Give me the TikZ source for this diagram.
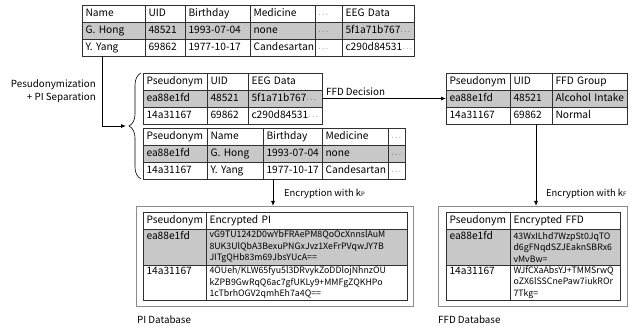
\documentclass[tikz,border=0pt]{standalone}
\usepackage{fontspec}
\setmainfont{Noto Sans CJK SC}
\usetikzlibrary{arrows.meta,decorations.pathreplacing}
\definecolor{rowgrey}{HTML}{C8C8C8}
\definecolor{tabline}{HTML}{303030}
\definecolor{boxline}{HTML}{8C8C8C}
\newcommand{\mdots}{{\fontsize{7}{7}\selectfont\ensuremath{\cdots}}}
\newcommand{\basefontsel}{\fontsize{10.2}{11.5}\selectfont}
\tikzset{
  basefont/.style={font=\fontsize{10.2}{12}\selectfont},
  labfont/.style={font=\fontsize{9.8}{12.5}\selectfont},
  encfont/.style={font=\fontsize{8.8}{11.5}\selectfont},
  cellbox/.style={basefont,draw=tabline,line width=0.6pt,inner xsep=3.5pt,inner ysep=0pt,outer sep=0pt,align=left,text height=7.5pt,text depth=2pt,anchor=north west},
  mcellbox/.style={encfont,draw=tabline,line width=0.6pt,inner xsep=3.5pt,inner ysep=0.5pt,outer sep=0pt,align=left,anchor=north west},
  dbbox/.style={draw=boxline,line width=0.6pt,outer sep=0pt,anchor=north west,inner sep=0pt},
  conn/.style={line width=0.8pt,black},
  arr/.style={conn,-{Latex[length=5pt,width=4pt]}},
  lab/.style={labfont,inner sep=1pt},
  enclab/.style={font=\fontsize{9.4}{12}\selectfont,inner sep=1pt},
}
% name, x1, y1, x2, y2, text, fill
\newcommand{\tcell}[7]{%
  \node[cellbox,fill=#7,minimum width={(#4-#2)*1pt},minimum height={(#5-#3)*1pt},text width={(#4-#2)*1pt-7pt}] (#1) at (#2,#3) {\mbox{#6}};}
\newcommand{\mcell}[7]{%
  \node[mcellbox,fill=#7,minimum width={(#4-#2)*1pt},minimum height={(#5-#3)*1pt},text width={(#4-#2)*1pt-7pt}] (#1) at (#2,#3) {#6};}
\newcommand{\ksub}[1]{k{\fontsize{6}{6}\selectfont #1}}
\begin{document}
\begin{tikzpicture}[x=1pt,y=-1pt]
\useasboundingbox (0,0) rectangle (639,328);

% ---------- Table 1 ----------
\tcell{t1a1}{82}{5}{145}{22}{Name}{white}
\tcell{t1a2}{145}{5}{185}{22}{UID}{white}
\tcell{t1a3}{185}{5}{250}{22}{Birthday}{white}
\tcell{t1a4}{250}{5}{315}{22}{Medicine}{white}
\tcell{t1a5}{315}{5}{342}{22}{\mdots}{white}
\tcell{t1a6}{342}{5}{414}{22}{EEG Data}{white}
\tcell{t1b1}{82}{22}{145}{39}{G. Hong}{rowgrey}
\tcell{t1b2}{145}{22}{185}{39}{48521}{rowgrey}
\tcell{t1b3}{185}{22}{250}{39}{1993-07-04}{rowgrey}
\tcell{t1b4}{250}{22}{315}{39}{none}{rowgrey}
\tcell{t1b5}{315}{22}{342}{39}{\mdots}{rowgrey}
\tcell{t1b6}{342}{22}{414}{39}{5f1a71b767\mdots}{rowgrey}
\tcell{t1c1}{82}{39}{145}{56}{Y. Yang}{white}
\tcell{t1c2}{145}{39}{185}{56}{69862}{white}
\tcell{t1c3}{185}{39}{250}{56}{1977-10-17}{white}
\tcell{t1c4}{250}{39}{315}{56}{Candesartan}{white}
\tcell{t1c5}{315}{39}{342}{56}{\mdots}{white}
\tcell{t1c6}{342}{39}{414}{56}{c290d84531\mdots}{white}

% ---------- Table 2 ----------
\tcell{t2a1}{143}{73}{207}{90}{Pseudonym}{white}
\tcell{t2a2}{207}{73}{248}{90}{UID}{white}
\tcell{t2a3}{248}{73}{322}{90}{EEG Data}{white}
\tcell{t2b1}{143}{90}{207}{107}{ea88e1fd}{rowgrey}
\tcell{t2b2}{207}{90}{248}{107}{48521}{rowgrey}
\tcell{t2b3}{248}{90}{322}{107}{5f1a71b767\mdots}{rowgrey}
\tcell{t2c1}{143}{107}{207}{124}{14a31167}{white}
\tcell{t2c2}{207}{107}{248}{124}{69862}{white}
\tcell{t2c3}{248}{107}{322}{124}{c290d84531\mdots}{white}

% ---------- Table 3 ----------
\tcell{t3a1}{143}{128}{207}{145}{Pseudonym}{white}
\tcell{t3a2}{207}{128}{263}{145}{Name}{white}
\tcell{t3a3}{263}{128}{322}{145}{Birthday}{white}
\tcell{t3a4}{322}{128}{388}{145}{Medicine}{white}
\tcell{t3a5}{388}{128}{405}{145}{\mdots}{white}
\tcell{t3b1}{143}{145}{207}{162}{ea88e1fd}{rowgrey}
\tcell{t3b2}{207}{145}{263}{162}{G. Hong}{rowgrey}
\tcell{t3b3}{263}{145}{322}{162}{1993-07-04}{rowgrey}
\tcell{t3b4}{322}{145}{388}{162}{none}{rowgrey}
\tcell{t3b5}{388}{145}{405}{162}{\mdots}{rowgrey}
\tcell{t3c1}{143}{162}{207}{179}{14a31167}{white}
\tcell{t3c2}{207}{162}{263}{179}{Y. Yang}{white}
\tcell{t3c3}{263}{162}{322}{179}{1977-10-17}{white}
\tcell{t3c4}{322}{162}{388}{179}{Candesartan}{white}
\tcell{t3c5}{388}{162}{405}{179}{\mdots}{white}

% ---------- Table 4 ----------
\tcell{t4a1}{446}{73}{510}{90}{Pseudonym}{white}
\tcell{t4a2}{510}{73}{552}{90}{UID}{white}
\tcell{t4a3}{552}{73}{627}{90}{FFD Group}{white}
\tcell{t4b1}{446}{90}{510}{107}{ea88e1fd}{rowgrey}
\tcell{t4b2}{510}{90}{552}{107}{48521}{rowgrey}
\tcell{t4b3}{552}{90}{627}{107}{Alcohol Intake}{rowgrey}
\tcell{t4c1}{446}{107}{510}{124}{14a31167}{white}
\tcell{t4c2}{510}{107}{552}{124}{69862}{white}
\tcell{t4c3}{552}{107}{627}{124}{Normal}{white}

% ---------- PI Database ----------
\node[dbbox,minimum width=277pt,minimum height=100pt] (pibox) at (136,206) {};
\tcell{p1}{143}{212}{206}{229}{Pseudonym}{white}
\tcell{p2}{206}{212}{407}{229}{Encrypted PI}{white}
\mcell{p3}{143}{229}{206}{265}{\basefontsel ea88e1fd\\\mbox{}\\\mbox{}}{rowgrey}
\mcell{p4}{206}{229}{407}{265}{vG9TU1242D0wYbFRAePM8QoOcXnnslAuM\\8UK3UlQbA3BexuPNGxJvz1XeFrPVqwJY7B\\JITgQHb83m69JbsYUcA==}{rowgrey}
\mcell{p5}{143}{265}{206}{300}{\basefontsel 14a31167\\\mbox{}\\\mbox{}}{white}
\mcell{p6}{206}{265}{407}{300}{4OUeh/KLW65fyu5l3DRvykZoDDlojNhnzOU\\kZPB9GwRqQ6ac7gfUKLy9+MMFgZQKHPo\\1cTbrhOGV2qmhEh7a4Q==}{white}
\node[lab,anchor=west] (pilab) at (136,320) {PI Database};

% ---------- FFD Database ----------
\node[dbbox,minimum width=189pt,minimum height=100pt] (ffdbox) at (438,206) {};
\tcell{f1}{446}{212}{510}{229}{Pseudonym}{white}
\tcell{f2}{510}{212}{620}{229}{Encrypted FFD}{white}
\mcell{f3}{446}{229}{510}{265}{\basefontsel ea88e1fd\\\mbox{}\\\mbox{}}{rowgrey}
\mcell{f4}{510}{229}{620}{265}{43WxILhd7WzpSt0JqTO\\d6gFNqdSZJEaknSBRx6\\vMvBw=}{rowgrey}
\mcell{f5}{446}{265}{510}{300}{\basefontsel 14a31167\\\mbox{}\\\mbox{}}{white}
\mcell{f6}{510}{265}{620}{300}{WJfCXaAbsYJ+TMMSrwQ\\oZX6lSSCnePaw7iukROr\\7Tkg=}{white}
\node[lab,anchor=west] (ffdlab) at (437,320) {FFD Database};

% ---------- Connectors ----------
\coordinate (bend) at (102,126);
\coordinate (bracetip) at (126,126);
\draw[arr] (t1c1.south -| bend) -- (bend) -- (bracetip);
\draw[line width=0.6pt,decorate,decoration={brace,amplitude=12pt}]
  ([xshift=-2pt]t3c1.south west) -- ([xshift=-2pt]t2a1.north west);
\node[lab,anchor=east,align=right] (pslab) at (97,91) {Pesudonymization\\+ PI Separation};

\draw[arr] (t2b3.east) -- (t4b1.west);
\node[lab,anchor=south west] (ffddec) at ([xshift=3pt,yshift=2pt]t2b3.east) {FFD Decision};

\coordinate (encP) at (273,0);
\coordinate (encF) at (536,0);
\draw[arr] (t3c3.south -| encP) -- (pibox.north -| encP);
\draw[arr] (t4c2.south -| encF) -- (ffdbox.north -| encF);
\node[enclab,anchor=west] (encPlab) at (283,194) {Encryption with \ksub{P}};
\node[enclab,anchor=west] (encFlab) at (545,194) {Encryption with \ksub{F}};
\end{tikzpicture}
\end{document}
